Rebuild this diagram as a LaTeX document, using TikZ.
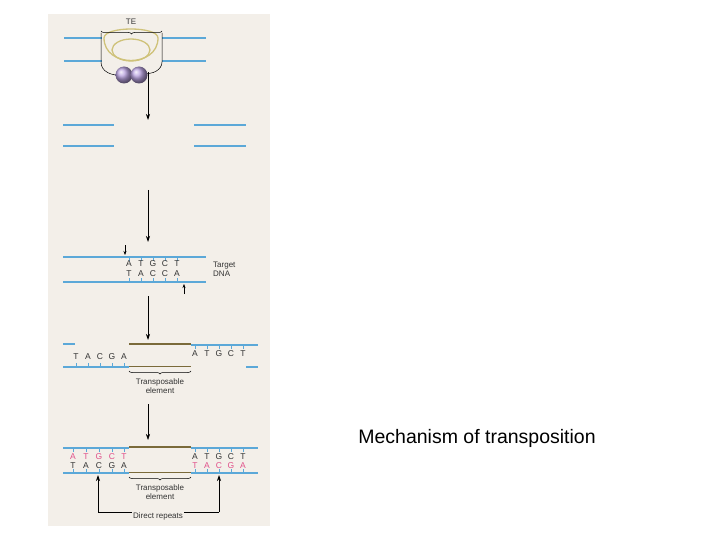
\documentclass[tikz,border=0pt]{standalone}
\usepackage{fontspec}
\setmainfont{Liberation Sans}
\usetikzlibrary{decorations.pathreplacing,arrows.meta}
\definecolor{bg}{HTML}{F3EFE9}
\definecolor{dna}{HTML}{5BA8D8}
\definecolor{te}{HTML}{7A6A3A}
\definecolor{loopc}{HTML}{CFC27A}
\definecolor{purp}{HTML}{B9A2E0}
\definecolor{pink}{HTML}{E0508A}
\begin{document}
\begin{tikzpicture}[x=1pt,y=-1pt,
  strand/.style={dna,line width=1.1pt},
  testrand/.style={te,line width=1.6pt},
  flow/.style={-{Stealth[length=6pt,width=4pt]},line width=0.7pt},
  base/.style={font=\fontsize{8.5}{9}\selectfont,inner sep=0pt,text=black!80},
  lab/.style={font=\fontsize{8}{9}\selectfont,align=center,inner sep=0pt,text=black!80},
  tick/.style={dna,line width=0.6pt},
  small/.style={-{Stealth[length=4pt,width=3pt]},line width=0.5pt},
  brace/.style={decorate,decoration={brace,amplitude=3pt},line width=0.5pt}]
\useasboundingbox (0,0) rectangle (720,540);
\fill[white] (0,0) rectangle (720,540);
\fill[bg] (48,14) rectangle (270,526);
% stage 1
\draw[strand] (64,38) -- (102,38) (162,38) -- (206,38);
\draw[strand] (64,61) -- (102,61) (162,61) -- (206,61);
\draw[loopc,line width=1.3pt] (104,38) .. controls (104,68) and (158,68) .. (158,38);
\draw[loopc,line width=1.3pt] (104,38) .. controls (104,26) and (158,26) .. (158,38);
\draw[loopc,line width=1.3pt] (131,50) ellipse (19 and 11);
\draw[line width=0.5pt] (101,33) -- (101,62) .. controls (101,72) and (112,76) .. (122,75);
\draw[line width=0.5pt] (162,33) -- (162,62) .. controls (162,70) and (152,75) .. (144,73);
\draw[brace] (162,31) -- (101,31);
\node[lab] (TE) at (131,22) {TE};
\shade[ball color=purp] (124,75) circle (8.5);
\shade[ball color=purp] (139,75) circle (8.5);
\coordinate (a1s) at (148,72); \coordinate (a1e) at (148,120);
\draw[flow] (a1s) -- (a1e);
% stage 2
\draw[strand] (63,125) -- (114,125) (194,125) -- (246,125);
\draw[strand] (63,146) -- (114,146) (194,146) -- (246,146);
\coordinate (a2s) at (148,190); \coordinate (a2e) at (148,242);
\draw[flow] (a2s) -- (a2e);
% stage 3
\draw[strand] (63,257) -- (206,257);
\draw[strand] (63,282) -- (206,282);
\foreach \x/\t/\b in {129/A/T,141/T/A,153/G/C,165/C/C,177/T/A}{
  \draw[tick] (\x,257) -- (\x,261); \draw[tick] (\x,278) -- (\x,282);
  \node[base] at (\x,264) {\t}; \node[base] at (\x,274) {\b};}
\draw[small] (125,245) -- (125,255);
\draw[small] (184,294) -- (184,284);
\node[lab,align=left,anchor=west] (tgt) at (213,269) {Target\\DNA};
\coordinate (a3s) at (148,296); \coordinate (a3e) at (148,340);
\draw[flow] (a3s) -- (a3e);
% stage 4
\draw[testrand] (129,344) -- (191,344);
\draw[strand] (191,345) -- (258,345);
\draw[strand] (63,344) -- (75,344);
\draw[strand] (63,367) -- (129,367);
\draw[strand] (246,367) -- (258,367);
\draw[te,line width=1pt] (129,366) -- (191,366);
\foreach \x/\t in {195/A,207/T,219/G,231/C,243/T}{
  \draw[tick] (\x,345) -- (\x,349); \node[base] at (\x,354) {\t};}
\foreach \x/\t in {76/T,88/A,100/C,112/G,124/A}{
  \draw[tick] (\x,363) -- (\x,367); \node[base] at (\x,357) {\t};}
\draw[brace] (191,371) -- (129,371);
\node[lab] (te1) at (160,386) {Transposable\\element};
\coordinate (a4s) at (148,404); \coordinate (a4e) at (148,440);
\draw[flow,line width=0.5pt] (a4s) -- (a4e);
% stage 5
\draw[strand] (63,448) -- (129,448) (191,448) -- (258,448);
\draw[testrand] (129,447) -- (191,447);
\draw[strand] (63,473) -- (129,473) (191,473) -- (258,473);
\draw[te,line width=1pt] (129,472) -- (191,472);
\foreach \x/\t/\b in {73/A/T,86/T/A,99/G/C,112/C/G,124/T/A}{
  \draw[tick] (\x,448) -- (\x,452); \draw[tick] (\x,469) -- (\x,473);
  \node[base,text=pink] at (\x,457) {\t}; \node[base] at (\x,466) {\b};}
\foreach \x/\t/\b in {195/A/T,207/T/A,219/G/C,231/C/G,243/T/A}{
  \draw[tick] (\x,448) -- (\x,452); \draw[tick] (\x,469) -- (\x,473);
  \node[base] at (\x,457) {\t}; \node[base,text=pink] at (\x,466) {\b};}
\draw[brace] (191,477) -- (129,477);
\node[lab] (te2) at (160,492) {Transposable\\element};
\coordinate (r1) at (98,475); \coordinate (r2) at (219,475);
\coordinate (c1) at (98,512); \coordinate (c2) at (219,512);
\draw[flow] (c1) -- (r1);
\draw[flow] (c2) -- (r2);
\draw[line width=0.7pt] (c1) -- (c2);
\node[lab,fill=bg,inner sep=1pt] (dr) at (158,516) {Direct repeats};
% caption
\node[font=\fontsize{19.5}{22}\selectfont] (cap) at (477,438) {Mechanism of transposition};
\end{tikzpicture}
\end{document}
